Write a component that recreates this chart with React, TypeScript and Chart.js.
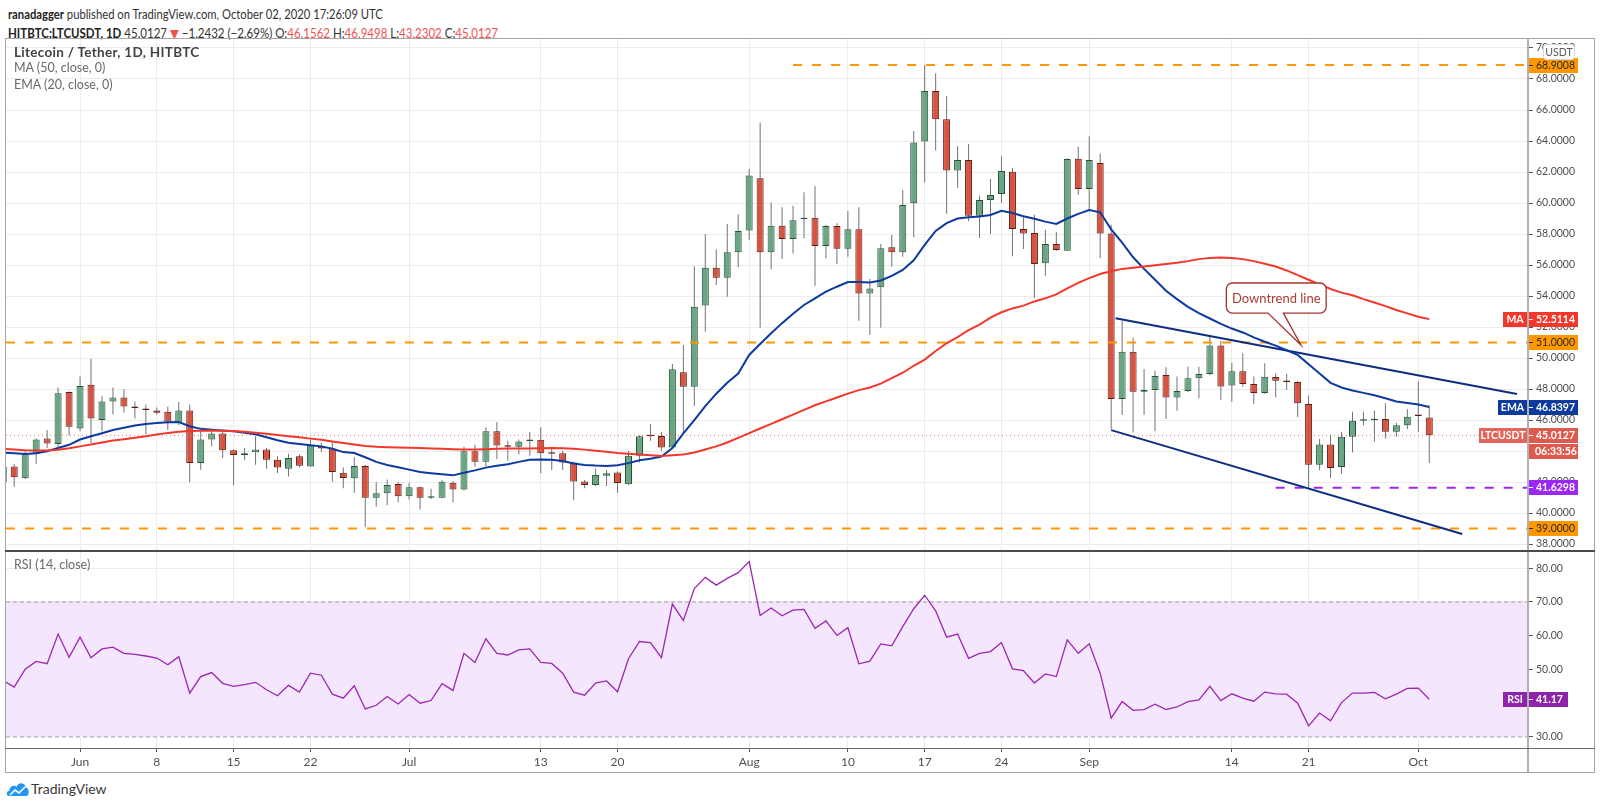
import React, { useEffect, useRef } from "react";
import { Chart, registerables } from "chart.js";

Chart.register(...registerables);

// ---------- data (day 0 = 2020-06-01, first candle = 2020-05-25) ----------
const FIRST_DAY = -7;

const OPEN = [
  42.0, 43.0, 42.25, 43.83, 44.8, 44.46, 47.8, 45.45, 48.27, 46.0,
  47.2, 47.45, 46.82, 46.75, 46.62, 46.54, 45.89, 46.62, 43.22, 44.74,
  45.13, 44.05, 43.74, 43.92, 44.09, 43.44, 42.86, 43.66, 43.0, 44.31,
  44.16, 42.6, 42.24, 43.04, 40.98, 41.28, 41.87, 41.09, 41.67, 40.98,
  40.98, 41.96, 41.52, 43.98, 43.3, 45.28, 44.33, 44.28, 44.65, 44.72,
  43.85, 43.85, 43.26, 42.04, 41.8, 42.4, 42.61, 41.85, 43.7, 45.0,
  44.97, 44.22, 49.08, 48.15, 53.38, 55.83, 55.18, 56.82, 58.22, 61.59,
  56.82, 58.54, 57.68, 58.95, 59.05, 57.23, 58.52, 57.05, 58.3, 54.17,
  54.56, 57.14, 56.82, 59.98, 63.96, 67.23, 65.4, 62.09, 62.77, 59.18,
  60.19, 60.58, 62.02, 58.32, 58.06, 56.11, 57.35, 56.92, 62.86, 60.9,
  62.58, 58.04, 47.35, 50.41, 47.83, 47.94, 48.9, 47.46, 47.87, 48.69,
  48.97, 50.8, 48.22, 49.14, 48.32, 47.74, 48.77, 48.53, 48.46, 47.04,
  43.12, 44.42, 42.97, 44.92, 45.96, 45.98, 46.06, 45.24, 45.67, 46.28,
  46.1562,
];
const HIGH = [
  43.1, 43.16, 43.98, 44.8, 45.35, 48.1, 47.84, 48.8, 49.96, 47.53,
  48.1, 47.99, 47.2, 47.0, 46.8, 46.88, 47.16, 47.0, 45.35, 45.28,
  45.28, 44.09, 44.2, 44.96, 44.2, 43.66, 43.83, 43.77, 44.74, 44.52,
  44.57, 42.93, 43.59, 43.1, 42.0, 42.17, 42.0, 41.96, 41.7, 41.57,
  42.15, 42.07, 44.28, 44.41, 45.54, 45.87, 44.67, 44.74, 45.22, 45.54,
  44.13, 44.02, 43.3, 42.13, 42.87, 42.78, 42.7, 44.02, 45.0, 45.74,
  45.25, 49.61, 50.84, 55.9, 58.0, 57.01, 58.65, 59.27, 62.19, 65.2,
  60.04, 59.72, 59.83, 60.69, 61.1, 58.6, 58.69, 59.48, 59.72, 55.1,
  57.35, 57.94, 60.84, 64.65, 68.9, 68.37, 66.9, 63.66, 63.81, 60.47,
  61.55, 63.01, 62.26, 59.08, 59.25, 58.28, 58.15, 62.88, 63.63, 64.3,
  63.2, 58.6, 52.41, 51.33, 49.29, 49.18, 49.4, 48.8, 49.44, 49.44,
  51.44, 51.08, 49.68, 50.3, 48.8, 49.66, 49.02, 48.98, 48.5, 47.58,
  44.77, 45.07, 45.24, 46.54, 46.54, 46.6, 47.08, 45.83, 46.69, 48.48,
  46.9498,
];
const LOW = [
  41.8, 41.7, 42.2, 43.16, 44.2, 44.26, 45.0, 45.28, 44.52, 45.28,
  46.36, 46.47, 46.1, 45.1, 46.36, 45.35, 45.67, 41.99, 42.79, 44.31,
  43.55, 41.77, 43.4, 43.12, 42.86, 42.58, 42.36, 42.94, 43.0, 43.94,
  42.02, 41.6, 41.3, 39.09, 40.4, 40.5, 40.7, 40.87, 40.22, 40.9,
  40.95, 40.7, 41.45, 43.0, 43.0, 43.48, 43.37, 43.78, 43.7, 42.57,
  42.78, 42.78, 40.83, 41.6, 41.75, 41.74, 41.3, 41.8, 43.26, 44.67,
  44.02, 44.2, 45.18, 46.92, 51.7, 54.71, 53.96, 55.85, 57.61, 51.96,
  55.72, 56.39, 56.75, 57.72, 54.67, 56.43, 56.06, 56.54, 52.41, 51.48,
  51.96, 55.89, 56.54, 57.78, 61.33, 63.38, 59.31, 60.97, 58.82, 57.74,
  58.0, 60.0, 56.56, 57.03, 53.87, 55.31, 56.9, 56.9, 60.54, 59.5,
  56.43, 45.42, 46.32, 45.2, 46.34, 45.27, 46.06, 46.6, 47.8, 47.4,
  48.9, 47.29, 47.18, 48.15, 47.03, 47.7, 47.47, 47.94, 46.2, 41.57,
  42.76, 42.26, 42.54, 43.9, 45.67, 44.59, 44.81, 44.92, 45.41, 45.24,
  43.2302,
];
const CLOSE = [
  43.0, 42.3, 43.83, 44.74, 44.48, 47.73, 45.56, 48.2, 46.1, 47.2,
  47.45, 46.88, 46.77, 46.65, 46.47, 45.89, 46.62, 43.22, 44.74, 45.13,
  44.05, 43.74, 43.85, 44.1, 43.44, 42.94, 43.55, 43.05, 44.35, 44.16,
  42.65, 42.26, 43.04, 40.98, 41.28, 41.8, 41.09, 41.67, 40.98, 41.09,
  42.02, 41.52, 43.98, 43.3, 45.28, 44.35, 44.28, 44.61, 44.69, 43.85,
  43.83, 43.26, 42.04, 41.8, 42.46, 42.57, 41.93, 43.7, 44.96, 44.96,
  44.22, 49.27, 48.15, 53.31, 55.83, 55.18, 56.82, 58.19, 61.78, 56.82,
  58.54, 57.68, 58.88, 59.05, 57.23, 58.52, 57.05, 58.3, 54.17, 54.49,
  57.08, 56.82, 59.87, 63.91, 67.23, 65.4, 62.1, 62.77, 59.18, 60.19,
  60.52, 62.06, 58.32, 58.04, 56.06, 57.35, 56.97, 62.84, 60.9, 62.77,
  58.04, 47.35, 50.41, 47.83, 47.94, 48.84, 47.46, 47.87, 48.69, 48.97,
  50.8, 48.17, 49.14, 48.32, 47.74, 48.79, 48.53, 48.46, 47.08, 43.12,
  44.42, 42.91, 44.92, 45.96, 45.98, 46.04, 45.24, 45.67, 46.21, 46.2559,
  45.0127,
];
const MA50 = [
  44.13, 44.1, 44.05, 44.03, 44.03, 44.08, 44.18, 44.3, 44.42, 44.55,
  44.68, 44.76, 44.85, 44.96, 45.07, 45.17, 45.25, 45.29, 45.31, 45.32,
  45.31, 45.29, 45.25, 45.18, 45.11, 45.04, 44.96, 44.89, 44.8, 44.72,
  44.62, 44.52, 44.42, 44.33, 44.27, 44.25, 44.23, 44.21, 44.2, 44.17,
  44.14, 44.12, 44.1, 44.1, 44.12, 44.14, 44.16, 44.16, 44.17, 44.18,
  44.2, 44.18, 44.14, 44.09, 44.02, 43.95, 43.87, 43.82, 43.77, 43.72,
  43.68, 43.72, 43.77, 43.9, 44.1, 44.3, 44.55, 44.85, 45.15, 45.45,
  45.75, 46.05, 46.35, 46.65, 46.95, 47.2, 47.45, 47.7, 47.93, 48.1,
  48.35, 48.7, 49.05, 49.5, 49.9, 50.45, 50.95, 51.35, 51.8, 52.15,
  52.6, 52.95, 53.2, 53.38, 53.65, 53.85, 54.1, 54.5, 54.85, 55.15,
  55.42, 55.6, 55.75, 55.83, 55.9, 55.98, 56.07, 56.15, 56.25, 56.38,
  56.46, 56.49, 56.45, 56.38, 56.25, 56.08, 55.9, 55.65, 55.35, 55.05,
  54.75, 54.45, 54.22, 54.05, 53.8, 53.58, 53.35, 53.1, 52.88, 52.66,
  52.51,
];
const EMA20 = [
  43.9, 43.85, 43.81, 43.85, 43.98, 44.2, 44.4, 44.74, 44.95, 45.15,
  45.35, 45.5, 45.65, 45.75, 45.8, 45.85, 45.87, 45.6, 45.43, 45.38,
  45.33, 45.28, 45.18, 45.08, 44.89, 44.7, 44.53, 44.45, 44.37, 44.3,
  44.15, 43.93, 43.87, 43.6, 43.3, 43.1, 42.95, 42.8, 42.65, 42.57,
  42.5, 42.43, 42.6, 42.75, 42.93, 43.05, 43.15, 43.3, 43.43, 43.45,
  43.43, 43.35, 43.2, 43.1, 43.06, 43.04, 43.08, 43.22, 43.4, 43.5,
  43.65, 44.2, 45.14, 46.0, 46.9, 47.7, 48.4, 49.0, 50.2, 50.9,
  51.6, 52.25, 52.85, 53.42, 53.85, 54.28, 54.6, 54.9, 54.9, 54.87,
  55.0, 55.3, 55.68, 56.3, 57.3, 58.2, 58.7, 59.0, 59.08, 59.13,
  59.23, 59.5, 59.35, 59.15, 58.98, 58.8, 58.65, 59.0, 59.3, 59.55,
  59.4, 58.3, 57.45, 56.5, 55.75, 55.05, 54.34, 53.8, 53.3, 52.9,
  52.55, 52.2, 51.9, 51.65, 51.33, 51.05, 50.8, 50.5, 50.2, 49.6,
  49.0, 48.4, 48.1, 47.9, 47.75, 47.6, 47.4, 47.2, 47.1, 47.0,
  46.84,
];
const RSI14 = [
  46.7, 44.8, 50.1, 52.4, 51.7, 60.5, 53.6, 59.6, 53.5, 56.1,
  56.6, 54.8, 54.5, 54.0, 53.4, 51.4, 53.8, 43.0, 47.9, 49.1,
  45.9, 45.0, 45.5, 46.2, 44.0, 42.2, 45.3, 43.3, 48.9, 48.3,
  42.7, 41.5, 45.2, 38.3, 39.4, 42.0, 39.8, 42.6, 40.0, 40.8,
  45.8, 43.8, 54.8, 52.1, 59.1, 54.8, 54.3, 55.8, 56.1, 52.1,
  51.8, 48.9, 43.3, 42.4, 46.0, 46.6, 43.4, 53.2, 58.3, 58.0,
  53.5, 69.4, 64.5, 74.0, 77.3, 75.0, 77.0, 78.7, 82.0, 66.0,
  68.2, 65.9, 67.6, 67.8, 62.2, 64.4, 60.1, 62.4, 51.7, 52.5,
  57.6, 57.0, 62.7, 68.0, 72.0, 67.4, 59.6, 60.5, 53.3, 54.8,
  55.3, 58.0, 50.2, 49.7, 46.0, 48.7, 47.9, 58.8, 54.8, 57.6,
  48.9, 35.6, 40.5, 37.9, 38.1, 39.7, 38.1, 38.9, 40.5, 41.0,
  45.0, 40.8, 42.8, 41.5, 40.6, 43.3, 42.8, 42.7, 40.0, 33.3,
  37.1, 34.8, 40.2, 43.0, 43.0, 43.2, 41.3, 42.7, 44.4, 44.5,
  41.17,
];

const X_TICKS = [0, 7, 14, 21, 30, 42, 49, 61, 70, 77, 84, 92, 105, 112, 122];
const X_TICK_LABELS = ["Jun", "8", "15", "22", "Jul", "13", "20", "Aug", "10", "17", "24", "Sep", "14", "21", "Oct"];
const PRICE_TICKS = [38, 40, 42, 44, 46, 48, 50, 52, 54, 56, 58, 60, 62, 64, 66, 68, 70];
const RSI_TICKS = [30, 40, 50, 60, 70, 80];

const LEVEL_TOP = 68.9008;
const LEVEL_TOP_FROM = 65;
const LEVEL_MID = 51;
const LEVEL_SUPPORT = 41.6298;
const LEVEL_SUPPORT_FROM = 109;
const LEVEL_LOW = 39;
const UPPER_TREND = [{ x: 94.4, y: 52.56 }, { x: 131, y: 47.68 }];
const LOWER_TREND = [{ x: 94, y: 45.35 }, { x: 126, y: 38.65 }];
const LAST_PRICE = 45.0127;
const LAST_MA = 52.5114;
const LAST_EMA = 46.8397;
const LAST_RSI = 41.17;
const RSI_UPPER = 70;
const RSI_LOWER = 30;
const CALLOUT_TEXT = "Downtrend line";
const CALLOUT_BOX = { x0: 104.5, x1: 113.6, yTop: 54.84, yBot: 52.9 };
const CALLOUT_TIP = { x: 111.3, y: 50.84 };
const CALLOUT_BASE = [108.3, 109.7];
const COUNTDOWN = "06:33:56";

// ---------- view ranges ----------
const X_MIN = -6.75;
const X_MAX = 132;
const P_MIN = 37.55;
const P_MAX = 70.645;
const R_MIN = 26.74;
const R_MAX = 85.11;

const FONT = "Lato, 'DejaVu Sans', sans-serif";
const UP_FILL = "#6ba583";
const UP_LINE = "#225437";
const DOWN_FILL = "#d75442";
const DOWN_LINE = "#5b1a13";
const WICK = "#737375";
const GRID = "#ececec";
const ORANGE = "#ff9800";
const PURPLE = "#9b27f5";
const MA_COLOR = "#f4372b";
const EMA_COLOR = "#0d3a9e";
const TREND_COLOR = "#0f2d80";
const LAST_COLOR = "#dd5a4e";
const RSI_COLOR = "#9c27b0";
const AXIS_FONT = 10.5;

const DAYS = OPEN.map((_, i) => i + FIRST_DAY);

function zeroPad(scale: any) {
  scale.paddingTop = 0;
  scale.paddingBottom = 0;
  scale.paddingLeft = 0;
  scale.paddingRight = 0;
}

function valueBox(ctx: CanvasRenderingContext2D, right: number, py: number, text: string, bg: string, fg: string, bold: boolean) {
  const h = 15;
  const top = Math.round(py - h / 2);
  ctx.fillStyle = bg;
  ctx.fillRect(right, top, 50, h);
  ctx.strokeStyle = fg;
  ctx.lineWidth = 1;
  ctx.beginPath();
  ctx.moveTo(right, top + 7.5);
  ctx.lineTo(right + 5, top + 7.5);
  ctx.stroke();
  ctx.fillStyle = fg;
  ctx.font = `${bold ? "bold " : ""}${AXIS_FONT}px ${FONT}`;
  ctx.textAlign = "left";
  ctx.textBaseline = "middle";
  ctx.fillText(text, right + 8, top + 8);
}

function tagBox(ctx: CanvasRenderingContext2D, right: number, py: number, text: string, bg: string, w: number) {
  const h = 15;
  const top = Math.round(py - h / 2);
  ctx.fillStyle = bg;
  ctx.fillRect(right - w, top, w - 1, h);
  ctx.fillStyle = "#ffffff";
  ctx.font = `bold ${AXIS_FONT}px ${FONT}`;
  ctx.textAlign = "center";
  ctx.textBaseline = "middle";
  ctx.fillText(text, right - w / 2 - 0.5, top + 8);
}

const priceAnnotations = {
  id: "priceAnnotations",
  afterDraw(chart: any) {
    const { ctx, chartArea: a } = chart;
    const x = chart.scales.x;
    const y = chart.scales.y;
    ctx.save();

    // callout "Downtrend line"
    const bx0 = x.getPixelForValue(CALLOUT_BOX.x0);
    const bx1 = x.getPixelForValue(CALLOUT_BOX.x1);
    const by0 = y.getPixelForValue(CALLOUT_BOX.yTop);
    const by1 = y.getPixelForValue(CALLOUT_BOX.yBot);
    const tx = x.getPixelForValue(CALLOUT_TIP.x);
    const ty = y.getPixelForValue(CALLOUT_TIP.y);
    const b0 = x.getPixelForValue(CALLOUT_BASE[0]);
    const b1 = x.getPixelForValue(CALLOUT_BASE[1]);
    const r = 6;
    ctx.beginPath();
    ctx.moveTo(bx0 + r, by0);
    ctx.lineTo(bx1 - r, by0);
    ctx.arcTo(bx1, by0, bx1, by0 + r, r);
    ctx.lineTo(bx1, by1 - r);
    ctx.arcTo(bx1, by1, bx1 - r, by1, r);
    ctx.lineTo(b1, by1);
    ctx.lineTo(tx, ty);
    ctx.lineTo(b0, by1);
    ctx.lineTo(bx0 + r, by1);
    ctx.arcTo(bx0, by1, bx0, by1 - r, r);
    ctx.lineTo(bx0, by0 + r);
    ctx.arcTo(bx0, by0, bx0 + r, by0, r);
    ctx.closePath();
    ctx.fillStyle = "#ffffff";
    ctx.fill();
    ctx.strokeStyle = "#a8332c";
    ctx.lineWidth = 1.3;
    ctx.stroke();
    ctx.fillStyle = "#ad3a33";
    ctx.font = `13px ${FONT}`;
    ctx.textAlign = "center";
    ctx.textBaseline = "middle";
    ctx.fillText(CALLOUT_TEXT, (bx0 + bx1) / 2, (by0 + by1) / 2 + 0.5);

    // axis labels
    const R = a.right;
    valueBox(ctx, R, y.getPixelForValue(LEVEL_TOP), LEVEL_TOP.toFixed(4), ORANGE, "#2a2a2a", false);
    valueBox(ctx, R, y.getPixelForValue(LEVEL_MID), LEVEL_MID.toFixed(4), ORANGE, "#2a2a2a", false);
    valueBox(ctx, R, y.getPixelForValue(LEVEL_LOW), LEVEL_LOW.toFixed(4), ORANGE, "#2a2a2a", false);
    valueBox(ctx, R, y.getPixelForValue(LEVEL_SUPPORT), LEVEL_SUPPORT.toFixed(4), PURPLE, "#ffffff", true);

    const pMA = y.getPixelForValue(LAST_MA);
    valueBox(ctx, R, pMA, LAST_MA.toFixed(4), MA_COLOR, "#ffffff", true);
    tagBox(ctx, R, pMA, "MA", MA_COLOR, 25);

    const pEMA = y.getPixelForValue(LAST_EMA);
    valueBox(ctx, R, pEMA, LAST_EMA.toFixed(4), EMA_COLOR, "#ffffff", true);
    tagBox(ctx, R, pEMA, "EMA", EMA_COLOR, 30);

    const pLast = y.getPixelForValue(LAST_PRICE);
    valueBox(ctx, R, pLast, LAST_PRICE.toFixed(4), LAST_COLOR, "#ffffff", true);
    tagBox(ctx, R, pLast, "LTCUSDT", "#e2665b", 49);
    // countdown box
    const cTop = Math.round(pLast - 7.5) + 16;
    ctx.fillStyle = LAST_COLOR;
    ctx.fillRect(R, cTop, 50, 15);
    ctx.fillStyle = "#ffffff";
    ctx.font = `bold ${AXIS_FONT}px ${FONT}`;
    ctx.textAlign = "left";
    ctx.textBaseline = "middle";
    ctx.fillText(COUNTDOWN, R + 7, cTop + 8);

    // USDT unit box
    const ux = R + 15;
    const uy = 6;
    const uw = 32;
    const uh = 16;
    ctx.fillStyle = "#ffffff";
    ctx.strokeStyle = "#d4d4d4";
    ctx.lineWidth = 1;
    ctx.beginPath();
    ctx.moveTo(ux + 3, uy + 0.5);
    ctx.lineTo(ux + uw - 3, uy + 0.5);
    ctx.arcTo(ux + uw - 0.5, uy + 0.5, ux + uw - 0.5, uy + 3, 3);
    ctx.lineTo(ux + uw - 0.5, uy + uh - 3);
    ctx.arcTo(ux + uw - 0.5, uy + uh - 0.5, ux + uw - 3, uy + uh - 0.5, 3);
    ctx.lineTo(ux + 3, uy + uh - 0.5);
    ctx.arcTo(ux + 0.5, uy + uh - 0.5, ux + 0.5, uy + uh - 3, 3);
    ctx.lineTo(ux + 0.5, uy + 3);
    ctx.arcTo(ux + 0.5, uy + 0.5, ux + 3, uy + 0.5, 3);
    ctx.closePath();
    ctx.fill();
    ctx.stroke();
    ctx.fillStyle = "#5a5a5a";
    ctx.font = `10.5px ${FONT}`;
    ctx.textAlign = "center";
    ctx.textBaseline = "middle";
    ctx.fillText("USDT", ux + uw / 2, uy + uh / 2 + 0.5);

    ctx.restore();
  },
};

const rsiAnnotations = {
  id: "rsiAnnotations",
  afterDraw(chart: any) {
    const { ctx, chartArea: a } = chart;
    const y = chart.scales.y;
    ctx.save();
    const p = y.getPixelForValue(LAST_RSI);
    const top = Math.round(p - 7.5);
    ctx.fillStyle = "#8e24aa";
    ctx.fillRect(a.right, top, 40, 15);
    ctx.strokeStyle = "#ffffff";
    ctx.beginPath();
    ctx.moveTo(a.right, top + 7.5);
    ctx.lineTo(a.right + 5, top + 7.5);
    ctx.stroke();
    ctx.fillStyle = "#ffffff";
    ctx.font = `bold ${AXIS_FONT}px ${FONT}`;
    ctx.textAlign = "left";
    ctx.textBaseline = "middle";
    ctx.fillText(LAST_RSI.toFixed(2), a.right + 8, top + 8);
    tagBox(ctx, a.right, p, "RSI", "#8e24aa", 25);
    ctx.restore();
  },
};

function hline(y: number, x0: number, x1: number, color: string, dash: number[], width: number) {
  return {
    type: "line",
    data: [{ x: x0, y }, { x: x1, y }],
    borderColor: color,
    borderDash: dash,
    borderWidth: width,
    pointRadius: 0,
    fill: false,
    order: 2,
  };
}

function xScale(showLabels: boolean) {
  return {
    type: "linear",
    min: X_MIN,
    max: X_MAX,
    offset: false,
    border: { display: false },
    grid: {
      color: GRID,
      offset: false,
      drawTicks: showLabels,
      tickLength: 4,
      tickColor: "#555555",
    },
    afterBuildTicks: (s: any) => {
      s.ticks = X_TICKS.map((v) => ({ value: v }));
    },
    ticks: {
      display: showLabels,
      autoSkip: false,
      maxRotation: 0,
      padding: 3,
      color: "#4f4f4f",
      font: { family: FONT, size: 12 },
      callback: (v: any) => X_TICK_LABELS[X_TICKS.indexOf(Number(v))] ?? "",
    },
    afterFit: (s: any) => {
      s.height = showLabels ? 24 : 0;
      zeroPad(s);
    },
  };
}

function mainConfig(): any {
  const wick = DAYS.map((d, i) => ({ x: d, y: [LOW[i], HIGH[i]] }));
  const body = DAYS.map((d, i) => ({ x: d, y: [Math.min(OPEN[i], CLOSE[i]), Math.max(OPEN[i], CLOSE[i])] }));
  const up = DAYS.map((_, i) => CLOSE[i] >= OPEN[i]);
  return {
    type: "bar",
    data: {
      datasets: [
        {
          type: "line",
          label: "MA",
          data: DAYS.map((d, i) => ({ x: d, y: MA50[i] })),
          borderColor: MA_COLOR,
          borderWidth: 2,
          pointRadius: 0,
          fill: false,
          order: 0,
        },
        {
          type: "line",
          label: "EMA",
          data: DAYS.map((d, i) => ({ x: d, y: EMA20[i] })),
          borderColor: EMA_COLOR,
          borderWidth: 2,
          pointRadius: 0,
          fill: false,
          order: 0,
        },
        { ...hline(LEVEL_TOP, LEVEL_TOP_FROM, X_MAX, ORANGE, [9, 10], 2) },
        { ...hline(LEVEL_MID, X_MIN, X_MAX, ORANGE, [9, 10], 2) },
        { ...hline(LEVEL_LOW, X_MIN, X_MAX, ORANGE, [9, 10], 2) },
        { ...hline(LEVEL_SUPPORT, LEVEL_SUPPORT_FROM, X_MAX, PURPLE, [9, 10], 2) },
        { ...hline(LAST_PRICE, X_MIN, X_MAX, "#e57373", [1, 3], 1), order: 3 },
        {
          type: "line",
          data: UPPER_TREND,
          borderColor: TREND_COLOR,
          borderWidth: 2,
          pointRadius: 0,
          fill: false,
          order: 1,
        },
        {
          type: "line",
          data: LOWER_TREND,
          borderColor: TREND_COLOR,
          borderWidth: 2,
          pointRadius: 0,
          fill: false,
          order: 1,
        },
        {
          type: "bar",
          label: "wick",
          data: wick,
          backgroundColor: WICK,
          borderWidth: 0,
          barThickness: 1,
          grouped: false,
          inflateAmount: 0,
          order: 6,
        },
        {
          type: "bar",
          label: "body",
          data: body,
          backgroundColor: up.map((u) => (u ? UP_FILL : DOWN_FILL)),
          borderColor: up.map((u) => (u ? UP_LINE : DOWN_LINE)),
          borderWidth: 1,
          borderSkipped: false,
          barThickness: 7,
          minBarLength: 1.5,
          grouped: false,
          inflateAmount: 0,
          order: 5,
        },
      ],
    },
    options: {
      responsive: false,
      animation: false,
      events: [],
      layout: { padding: 0 },
      plugins: { legend: { display: false }, tooltip: { enabled: false } },
      scales: {
        x: xScale(false),
        y: {
          type: "linear",
          position: "right",
          min: P_MIN,
          max: P_MAX,
          border: { display: false },
          grid: { color: GRID, tickLength: 5, tickColor: "#555555" },
          afterBuildTicks: (s: any) => {
            s.ticks = PRICE_TICKS.map((v) => ({ value: v }));
          },
          ticks: {
            autoSkip: false,
            padding: 3,
            color: "#4f4f4f",
            font: { family: FONT, size: AXIS_FONT },
            callback: (v: any) => Number(v).toFixed(4),
          },
          afterFit: (s: any) => {
            s.width = 66;
            zeroPad(s);
          },
        },
      },
    },
    plugins: [priceAnnotations],
  };
}

function rsiConfig(): any {
  return {
    type: "line",
    data: {
      datasets: [
        {
          label: "RSI",
          data: DAYS.map((d, i) => ({ x: d, y: RSI14[i] })),
          borderColor: RSI_COLOR,
          borderWidth: 1.3,
          pointRadius: 0,
          fill: false,
          order: 0,
        },
        {
          label: "upper",
          data: [{ x: X_MIN, y: RSI_UPPER }, { x: X_MAX, y: RSI_UPPER }],
          borderColor: "#a69bab",
          borderDash: [4, 3],
          borderWidth: 1,
          pointRadius: 0,
          fill: "+1",
          backgroundColor: "#f3e6fd",
          order: 1,
        },
        {
          label: "lower",
          data: [{ x: X_MIN, y: RSI_LOWER }, { x: X_MAX, y: RSI_LOWER }],
          borderColor: "#a69bab",
          borderDash: [4, 3],
          borderWidth: 1,
          pointRadius: 0,
          fill: false,
          order: 1,
        },
      ],
    },
    options: {
      responsive: false,
      animation: false,
      events: [],
      layout: { padding: 0 },
      plugins: {
        legend: { display: false },
        tooltip: { enabled: false },
        filler: { drawTime: "beforeDatasetsDraw" },
      },
      scales: {
        x: xScale(true),
        y: {
          type: "linear",
          position: "right",
          min: R_MIN,
          max: R_MAX,
          border: { display: false },
          grid: { color: GRID, tickLength: 5, tickColor: "#555555" },
          afterBuildTicks: (s: any) => {
            s.ticks = RSI_TICKS.map((v) => ({ value: v }));
          },
          ticks: {
            autoSkip: false,
            padding: 3,
            color: "#4f4f4f",
            font: { family: FONT, size: AXIS_FONT },
            callback: (v: any) => Number(v).toFixed(2),
          },
          afterFit: (s: any) => {
            s.width = 66;
            zeroPad(s);
          },
        },
      },
    },
    plugins: [rsiAnnotations],
  };
}

const abs = (l: number, t: number, w: number, h: number, bg: string): React.CSSProperties => ({
  position: "absolute",
  left: l,
  top: t,
  width: w,
  height: h,
  background: bg,
});

export default function App() {
  const mainRef = useRef<HTMLCanvasElement>(null);
  const rsiRef = useRef<HTMLCanvasElement>(null);

  useEffect(() => {
    const main = new Chart(mainRef.current as HTMLCanvasElement, mainConfig());
    const rsi = new Chart(rsiRef.current as HTMLCanvasElement, rsiConfig());
    return () => {
      main.destroy();
      rsi.destroy();
    };
  }, []);

  const red = { color: "#ef5350" };
  const txt: React.CSSProperties = { position: "absolute", whiteSpace: "nowrap", lineHeight: "16px", height: 16 };
  const squeeze = (k: number): React.CSSProperties => ({ transform: `scaleX(${k})`, transformOrigin: "0 50%" });

  return (
    <div
      style={{
        position: "fixed",
        left: 0,
        top: 0,
        width: 1600,
        height: 805,
        background: "#ffffff",
        overflow: "hidden",
        fontFamily: FONT,
      }}
    >
      <div style={{ ...txt, ...squeeze(0.9), left: 8, top: 7, fontSize: 12.5, color: "#333" }}>
        <b style={{ color: "#222" }}>ranadagger</b> published on TradingView.com, October 02, 2020 17:26:09 UTC
      </div>
      <div style={{ ...txt, ...squeeze(0.92), left: 8, top: 26, fontSize: 12.5, color: "#333" }}>
        <b style={{ color: "#222" }}>HITBTC:LTCUSDT, 1D</b> 45.0127 <span style={red}>▼</span> −1.2432 (−2.69%) O:
        <span style={red}>46.1562</span> H:<span style={red}>46.9498</span> L:<span style={red}>43.2302</span> C:
        <span style={red}>45.0127</span>
      </div>

      <canvas ref={mainRef} width={1588} height={513} style={{ position: "absolute", left: 6, top: 38 }} />
      <canvas ref={rsiRef} width={1588} height={221} style={{ position: "absolute", left: 6, top: 551 }} />

      <div
        style={{ ...txt, left: 14, top: 44, fontSize: 13.5, color: "#434343", fontWeight: 700, letterSpacing: 0.3 }}
      >
        Litecoin / Tether, 1D, HITBTC
      </div>
      <div style={{ ...txt, left: 14, top: 60, fontSize: 12.5, color: "#6a6a6a" }}>MA (50, close, 0)</div>
      <div style={{ ...txt, left: 14, top: 77, fontSize: 12.5, color: "#6a6a6a" }}>EMA (20, close, 0)</div>
      <div style={{ ...txt, left: 14, top: 557, fontSize: 12.5, color: "#6a6a6a" }}>RSI (14, close)</div>

      {/* frame */}
      <div style={abs(5, 38, 1590, 1, "#a6a6a6")} />
      <div style={abs(5, 38, 1, 735, "#a6a6a6")} />
      <div style={abs(1594, 38, 1, 735, "#a6a6a6")} />
      <div style={abs(5, 772, 1590, 1, "#a6a6a6")} />
      <div style={abs(1527, 38, 2, 735, "#b0b0b0")} />
      <div style={abs(5, 550, 1590, 1.5, "#4a4a4a")} />
      <div style={abs(5, 748, 1590, 1, "#6a6a6a")} />

      {/* TradingView logo */}
      <svg style={{ position: "absolute", left: 6, top: 780 }} width="24" height="18" viewBox="0 0 24 18">
        <path d="M3 16 C0 16 0 11 3.5 10.5 C3.5 6 8.5 4.5 10.5 7 C12 2 19 2 19.5 7.5 C23.5 7.5 24 16 20 16 Z" fill="#2196f3" />
        <polyline points="4,15 9,10 13,13 19,7" fill="none" stroke="#ffffff" strokeWidth="1.6" />
      </svg>
      <div style={{ ...txt, left: 31, top: 781, fontSize: 14, color: "#3a3a3a" }}>TradingView</div>
    </div>
  );
}
